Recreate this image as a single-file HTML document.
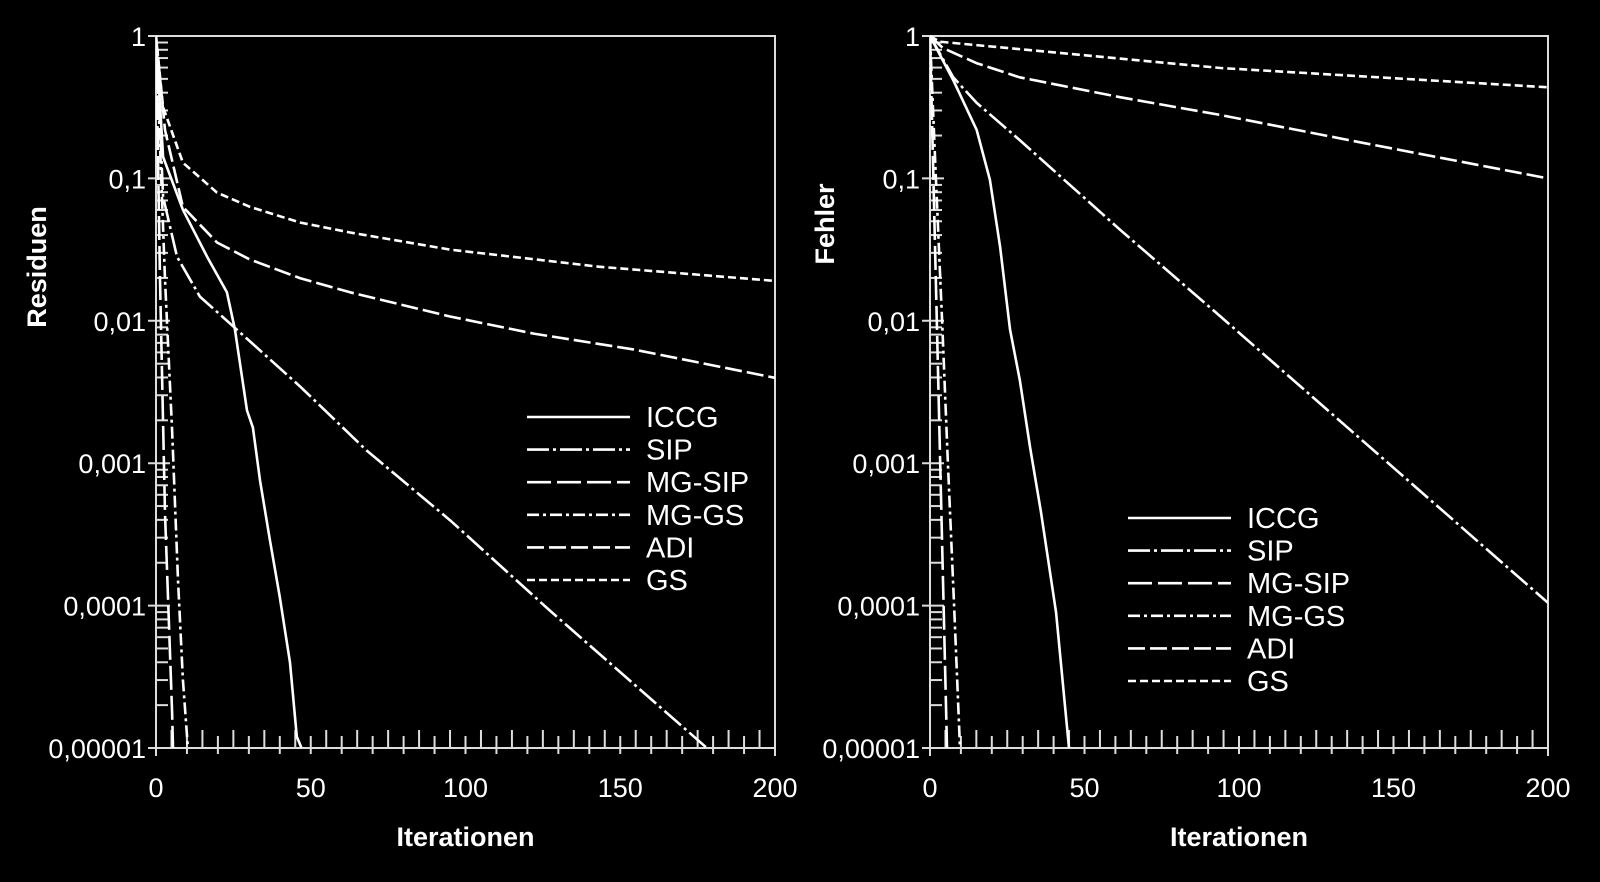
<!DOCTYPE html>
<html><head><meta charset="utf-8">
<style>
html,body{margin:0;padding:0;background:#000;}
svg{display:block;}
text{font-family:"Liberation Sans",Arial,sans-serif;fill:#fff;}
</style></head>
<body>
<svg id="chart" width="1600" height="882" viewBox="0 0 1600 882" xmlns="http://www.w3.org/2000/svg">
<rect width="1600" height="882" fill="#000"/>
</svg>
<script>
// ---- data (values given as log10) ----
const seriesNames = ["ICCG","SIP","MG-SIP","MG-GS","ADI","GS"];
const xTicks = [0,50,100,150,200];
const yTickLabels = ["1","0,1","0,01","0,001","0,0001","0,00001"];
const yTickLogs = [0,-1,-2,-3,-4,-5];

// Left panel (Residuen)
const resICCGIter = [0,2.3,8.7,16.5,22.9,25.5,29.4,31.3,33.6,36.8,40,43.3,45.5,47];
const resICCGLog  = [0,-0.85,-1.22,-1.55,-1.8,-2.06,-2.63,-2.75,-3.12,-3.54,-3.94,-4.4,-4.92,-5];
const resSIPIter  = [0,2.3,6.8,14.2,26,46.5,68,95,127,178];
const resSIPLog   = [0,-1.13,-1.55,-1.83,-2.06,-2.46,-2.91,-3.4,-4.03,-5];
const resMGSIPIter= [0,1.3,2.9,5.2,5.5];
const resMGSIPLog = [0,-1.71,-3.35,-4.75,-5];
const resMGGSIter = [0,2.9,5.2,7.1,8.7,10.3];
const resMGGSLog  = [0,-1.71,-2.77,-3.82,-4.52,-5];
const resADIIter  = [0,2.9,8.7,19.7,30.4,46.5,62.7,95,122,154,200];
const resADILog   = [0,-0.66,-1.2,-1.45,-1.57,-1.7,-1.8,-1.97,-2.09,-2.2,-2.4];
const resGSIter   = [0,2.3,8.7,19.7,30.4,46.5,62.7,95,143,200];
const resGSLog    = [0,-0.5,-0.89,-1.1,-1.2,-1.31,-1.38,-1.5,-1.62,-1.72];

// Right panel (Fehler)
const errICCGIter = [0,7.5,15.1,19.4,22.7,25.9,29.1,32.4,35.9,40.8,45];
const errICCGLog  = [0,-0.31,-0.66,-1.01,-1.48,-2.06,-2.42,-2.89,-3.34,-4.05,-5];
const errSIPIter  = [0,7.5,15.1,29,61.5,94,200];
const errSIPLog   = [0,-0.29,-0.47,-0.73,-1.36,-1.97,-3.98];
const errMGSIPIter= [0,1.1,2.2,3.3,4.4,5.5];
const errMGSIPLog = [0,-1,-2,-3,-4,-5];
const errMGGSIter = [0,1.9,3.9,5.8,7.8,9.7];
const errMGGSLog  = [0,-1,-2,-3,-4,-5];
const errADIIter  = [0,4.2,15,29,61.5,94,140,200];
const errADILog   = [0,-0.085,-0.19,-0.29,-0.43,-0.555,-0.75,-1.0];
const errGSIter   = [0,3.2,94,200];
const errGSLog    = [0,-0.04,-0.225,-0.36];

// ---- styles ----
const dashes = {"ICCG":"none","SIP":"22 4 3 4","MG-SIP":"24 6","MG-GS":"12 4 3 4","ADI":"17 5","GS":"8 4"};

const NS="http://www.w3.org/2000/svg";
const svg=document.getElementById('chart');
function mk(tag,attrs,parent){const e=document.createElementNS(NS,tag);for(const k in attrs)e.setAttribute(k,attrs[k]);(parent||svg).appendChild(e);return e;}

function panel(cfg){
  const g=mk('g',{});
  
  
  const L=cfg.left,R=cfg.right,T=36,B=748;
  const xS=v=>L+(v/200)*(R-L);
  const yS=lg=>T+(-lg)/5*(B-T);
  const frame=mk('rect',{x:L,y:T,width:R-L,height:B-T,fill:'none',stroke:'#ddd','stroke-width':2},g);
  
  
  for(let v=5;v<200;v+=5){
    const x=xS(v);
    if(v%10===0) mk('line',{x1:x,y1:B-12,x2:x,y2:B+6,stroke:'#ddd','stroke-width':2},g);
    else mk('line',{x1:x,y1:B-18,x2:x,y2:B,stroke:'#ddd','stroke-width':2},g);
  }
  mk('line',{x1:R,y1:B,x2:R,y2:B+8,stroke:'#ddd','stroke-width':2},g);
  mk('line',{x1:L,y1:B,x2:L,y2:B+8,stroke:'#ddd','stroke-width':2},g);
  xTicks.forEach(v=>{
    const t=mk('text',{x:xS(v),y:797,'font-size':27,'text-anchor':'middle'},g);
    t.textContent=String(v);
    
    
  });
  for(let d=0;d<5;d++){
    for(let m=2;m<=9;m++){
      const y=yS(-d-1+Math.log10(m));
      mk('line',{x1:L,y1:y,x2:L+12,y2:y,stroke:'#ddd','stroke-width':2},g);
    }
  }
  yTickLogs.forEach((v,i)=>{
    const y=yS(v);
    mk('line',{x1:L-8,y1:y,x2:L+14,y2:y,stroke:'#ddd','stroke-width':2},g);
    const t=mk('text',{x:L-10,y:y+10,'font-size':27,'text-anchor':'end'},g);
    t.textContent=yTickLabels[i];
    
    
  });
  const xt=mk('text',{x:(L+R)/2,y:846,'font-size':27,'font-weight':'bold','text-anchor':'middle'},g);
  xt.textContent='Iterationen';
  
  
  const yt=mk('text',{x:0,y:0,'font-size':27,'font-weight':'bold','text-anchor':'middle',transform:`translate(${cfg.ytx},${cfg.yty}) rotate(-90)`},g);
  yt.textContent=cfg.ytitle;
  
  
  const clip=mk('clipPath',{id:'clip-'+cfg.id},g);
  mk('rect',{x:L,y:T-2,width:R-L,height:B-T+2},clip);
  cfg.series.forEach((s,i)=>{
    const d=s[0].map((it,j)=>(j?'L':'M')+xS(it).toFixed(1)+','+yS(s[1][j]).toFixed(1)).join(' ');
    const p=mk('path',{d:d,fill:'none',stroke:'#fff','stroke-width':2.6,'stroke-linejoin':'round','stroke-dasharray':dashes[seriesNames[i]],'clip-path':'url(#clip-'+cfg.id+')'},g);
    
    
  });
  const lg=mk('g',{},g);
  
  
  seriesNames.forEach((n,i)=>{
    const y=cfg.legY+i*32.6;
    const e=mk('g',{},lg);
    
    
    mk('line',{x1:cfg.legX,y1:y,x2:cfg.legX+103,y2:y,stroke:'#fff','stroke-width':2.6,'stroke-dasharray':dashes[n]},e);
    const t=mk('text',{x:cfg.legX+119,y:y+10,'font-size':29},e);
    t.textContent=n;
  });
}

panel({id:'residuen',left:156,right:775,ytitle:'Residuen',ytx:46,yty:267,legX:527,legY:417,
  series:[[resICCGIter,resICCGLog],[resSIPIter,resSIPLog],[resMGSIPIter,resMGSIPLog],[resMGGSIter,resMGGSLog],[resADIIter,resADILog],[resGSIter,resGSLog]]});
panel({id:'fehler',left:930,right:1548,ytitle:'Fehler',ytx:834,yty:224,legX:1128,legY:518,
  series:[[errICCGIter,errICCGLog],[errSIPIter,errSIPLog],[errMGSIPIter,errMGSIPLog],[errMGGSIter,errMGGSLog],[errADIIter,errADILog],[errGSIter,errGSLog]]});
</script>
</body></html>
